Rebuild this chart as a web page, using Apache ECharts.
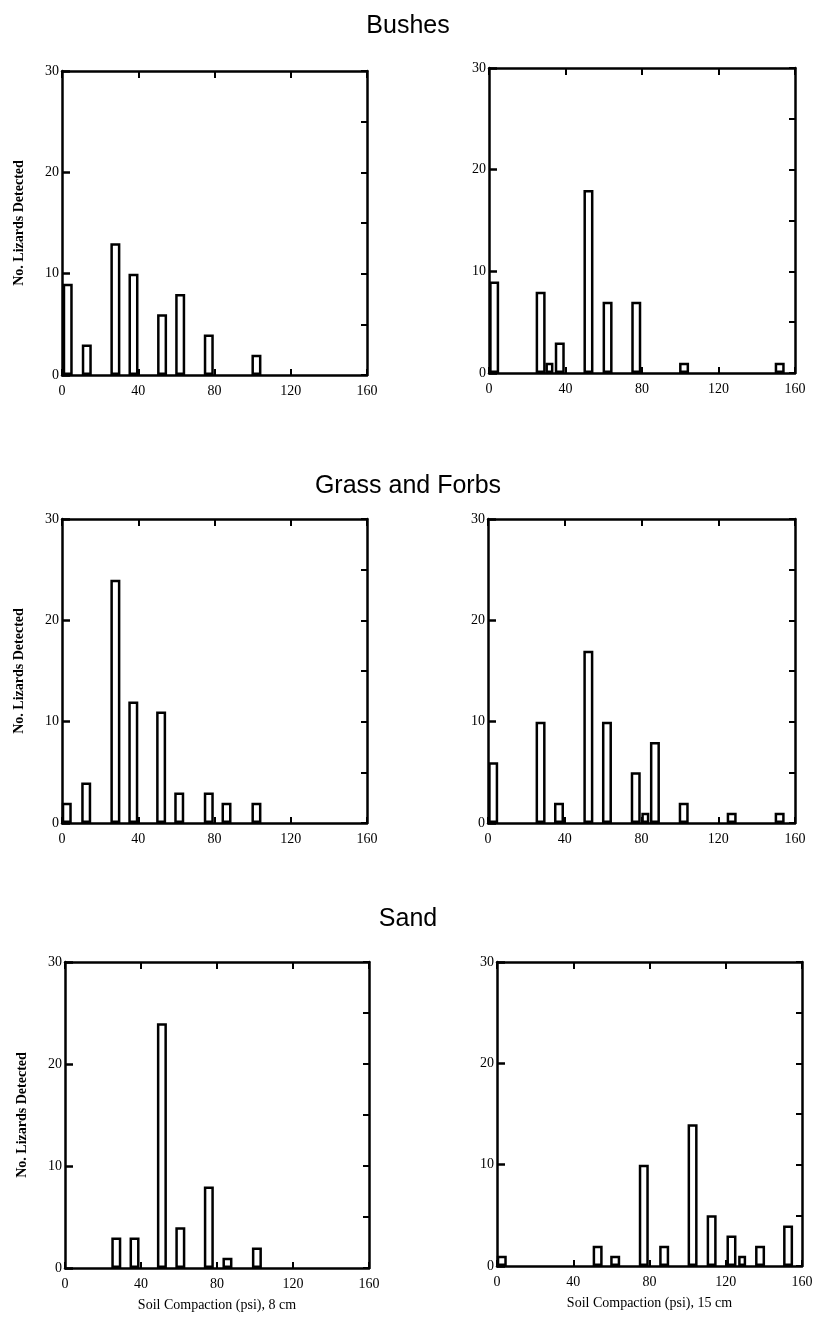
<!DOCTYPE html>
<html>
<head>
<meta charset="utf-8">
<script src="https://cdn.jsdelivr.net/npm/echarts@6/dist/echarts.min.js"></script>
<style>
  html, body { margin: 0; padding: 0; background: #fff; }
  #main { width: 816px; height: 1319px; }
</style>
</head>
<body>
<div id="main"></div>
<script>
// soil compaction (psi) of each bar, and number of lizards detected
var bushes8X = [3, 13, 28, 37.5, 52.5, 62, 77, 102]
var bushes8Y = [9, 3, 13, 10, 6, 8, 4, 2]

var bushes15X = [2.7, 27, 37, 52, 62, 77, 102, 152]
var bushes15Y = [9, 8, 3, 18, 7, 7, 1, 1]
var bushes15InnerX = [31.6]
var bushes15InnerY = [1]

var grass8X = [2.5, 12.7, 28, 37.4, 52, 61.5, 77, 86.3, 102]
var grass8Y = [2, 4, 24, 12, 11, 3, 3, 2, 2]

var grass15X = [2.7, 27.4, 37, 52.3, 62, 77, 87, 102, 127, 152]
var grass15Y = [6, 10, 2, 17, 10, 5, 8, 2, 1, 1]
var grass15InnerX = [82]
var grass15InnerY = [1]

var sand8X = [27, 36.6, 51, 60.7, 75.7, 85.5, 101]
var sand8Y = [3, 3, 24, 4, 8, 1, 2]

var sand15X = [2.5, 52.8, 62, 77, 87.7, 102.6, 112.6, 123, 138, 152.7]
var sand15Y = [1, 2, 1, 10, 2, 14, 5, 3, 2, 4]
var sand15InnerX = [128.6]
var sand15InnerY = [1]

var xTicks = [0, 40, 80, 120, 160]
var yTicks = [0, 10, 20, 30]

var panelTitles = ['Bushes', 'Grass and Forbs', 'Sand']
var yName = 'No. Lizards Detected'
var xNames = ['Soil Compaction (psi), 8 cm', 'Soil Compaction (psi), 15 cm']

function pairs (xs, ys) {
  return xs.map(function (x, i) { return [x, ys[i]] })
}

var serif = 'Liberation Serif'
var panels = [
  { box: [62, 71, 305, 304], main: pairs(bushes8X, bushes8Y), inner: [], yName: true },
  { box: [489, 68, 306, 305], main: pairs(bushes15X, bushes15Y), inner: pairs(bushes15InnerX, bushes15InnerY) },
  { box: [62, 519, 305, 304], main: pairs(grass8X, grass8Y), inner: [], yName: true },
  { box: [488, 519, 307, 304], main: pairs(grass15X, grass15Y), inner: pairs(grass15InnerX, grass15InnerY) },
  { box: [65, 962, 304, 306], main: pairs(sand8X, sand8Y), inner: [], yName: true, xName: xNames[0] },
  { box: [497, 962, 305, 304], main: pairs(sand15X, sand15Y), inner: pairs(sand15InnerX, sand15InnerY), xName: xNames[1] }
]

var grid = [], xAxis = [], yAxis = [], series = []
var frame = { show: true, onZero: false, lineStyle: { color: '#000', width: 2.5 } }
var labelStyle = { color: '#000', fontFamily: serif, fontSize: 14 }
var barStyle = { color: '#fff', borderColor: '#000', borderWidth: 2.5 }

panels.forEach(function (p, i) {
  grid.push({ left: p.box[0], top: p.box[1], width: p.box[2], height: p.box[3] })
  var xMin = xTicks[0], xMax = xTicks[xTicks.length - 1]
  var yMin = yTicks[0], yMax = yTicks[yTicks.length - 1]
  xAxis.push({
    type: 'value', gridIndex: i, min: xMin, max: xMax, interval: 40,
    axisLine: frame,
    axisTick: { inside: true, length: 6, lineStyle: { color: '#000', width: 2 } },
    axisLabel: Object.assign({ margin: 9 }, labelStyle),
    splitLine: { show: false },
    name: p.xName || '', nameLocation: 'middle', nameGap: 30,
    nameTextStyle: { color: '#000', fontFamily: serif, fontSize: 14 }
  })
  xAxis.push({
    type: 'value', gridIndex: i, position: 'top', min: xMin, max: xMax, interval: 40,
    axisLine: frame,
    axisTick: { inside: true, length: 7, lineStyle: { color: '#000', width: 2 } },
    axisLabel: { show: false },
    splitLine: { show: false }
  })
  yAxis.push({
    type: 'value', gridIndex: i, min: yMin, max: yMax, interval: 10,
    axisLine: frame,
    axisTick: { inside: true, length: 8, lineStyle: { color: '#000', width: 2.5 } },
    axisLabel: Object.assign({ margin: 3 }, labelStyle),
    splitLine: { show: false },
    name: p.yName ? yName : '', nameLocation: 'middle', nameGap: 36,
    nameTextStyle: { color: '#000', fontFamily: serif, fontSize: 14, fontWeight: 'bold' }
  })
  yAxis.push({
    type: 'value', gridIndex: i, position: 'right', min: yMin, max: yMax, interval: 5,
    axisLine: frame,
    axisTick: { inside: true, length: 6, lineStyle: { color: '#000', width: 2 } },
    axisLabel: { show: false },
    splitLine: { show: false }
  })
  series.push({
    type: 'bar', xAxisIndex: i * 2, yAxisIndex: i * 2,
    data: p.main, barWidth: 10, itemStyle: barStyle, silent: true
  })
  if (p.inner.length) {
    series.push({
      type: 'bar', xAxisIndex: i * 2 + 1, yAxisIndex: i * 2,
      data: p.inner, barWidth: 8, itemStyle: barStyle, silent: true
    })
  }
})

var titleFont = { color: '#000', fontFamily: 'Liberation Sans', fontSize: 25, fontWeight: 'normal' }
var titleTops = [9, 469, 902]
var title = panelTitles.map(function (t, i) {
  return { text: t, left: 'center', top: titleTops[i], textStyle: titleFont }
})

var chart = echarts.init(document.getElementById('main'))
chart.setOption({
  animation: false,
  backgroundColor: '#fff',
  title: title,
  grid: grid,
  xAxis: xAxis,
  yAxis: yAxis,
  series: series
})
window.addEventListener('resize', function () { chart.resize() })
</script>
</body>
</html>
